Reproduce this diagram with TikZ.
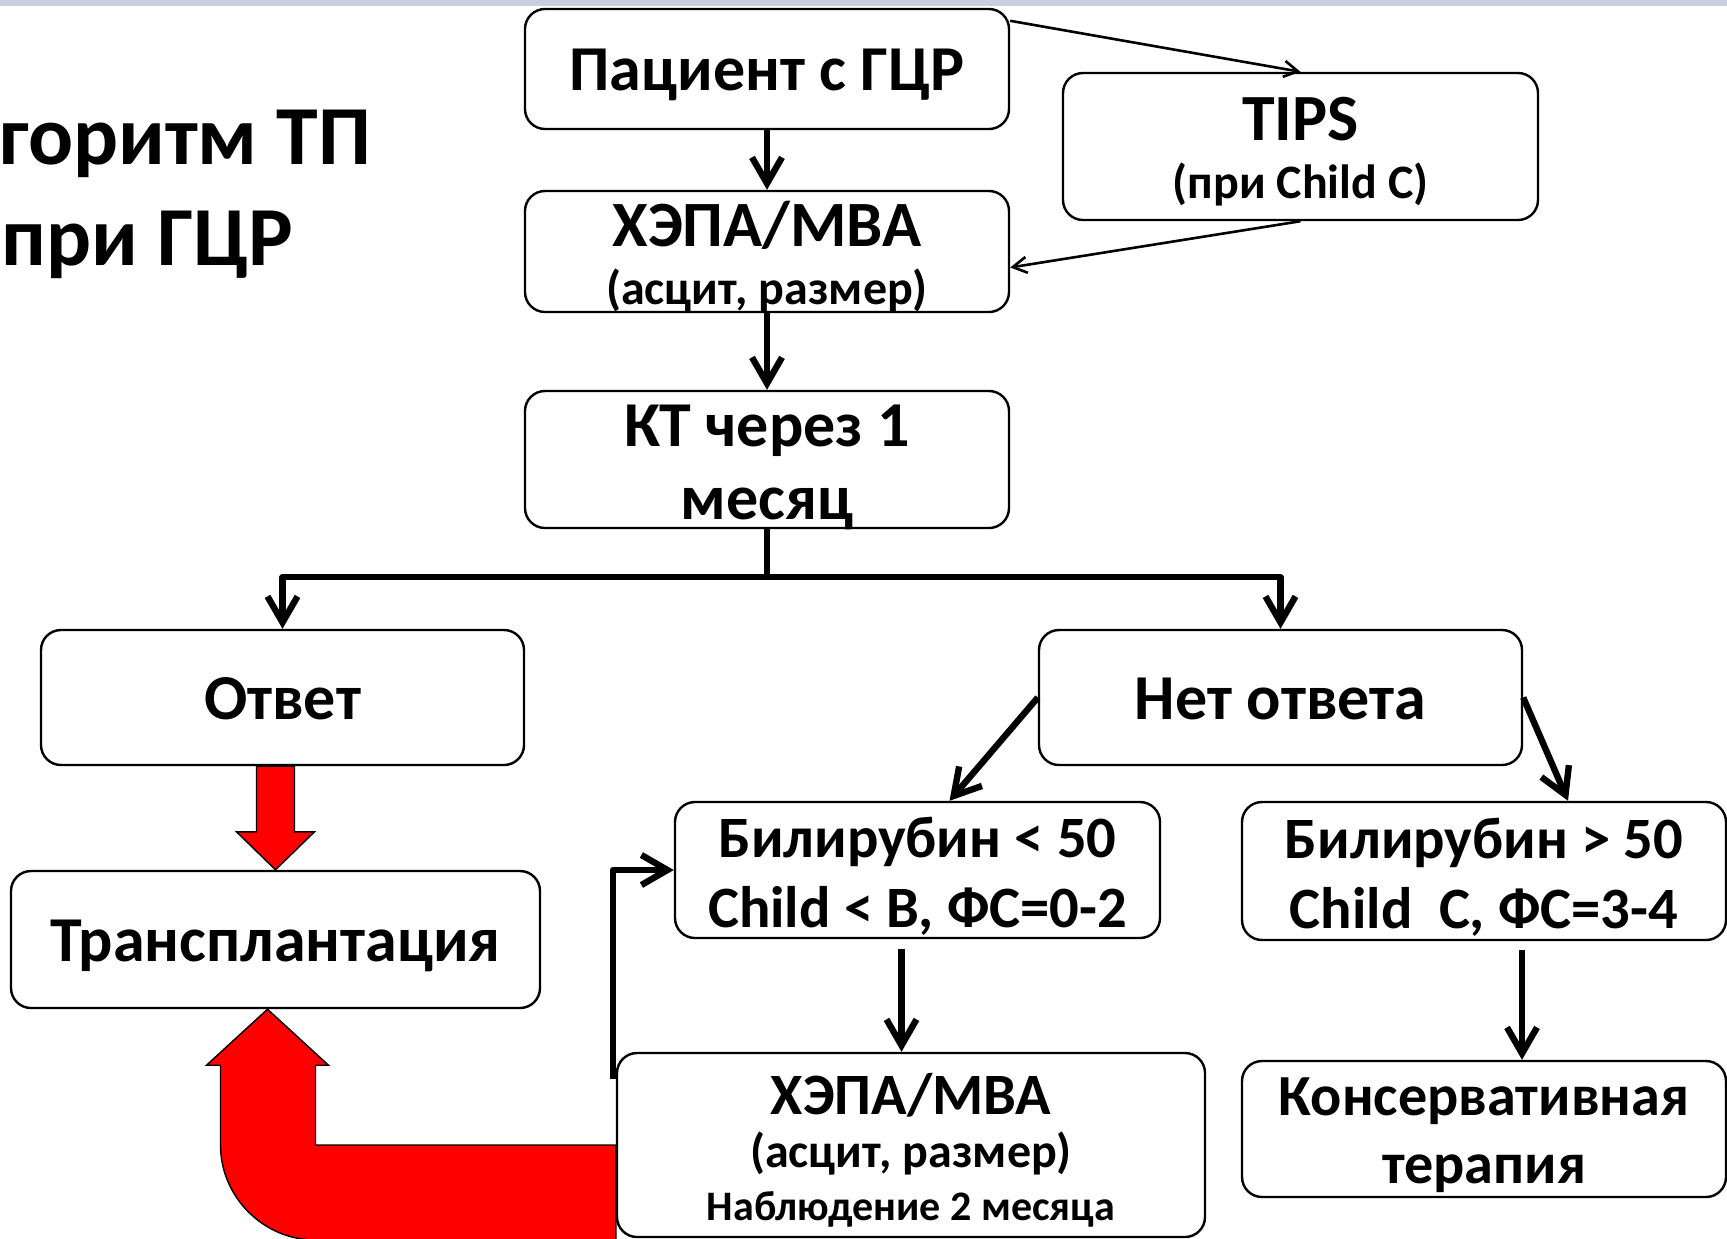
\documentclass[tikz,border=0pt]{standalone}
\usepackage{fontspec}
\setmainfont{Carlito}
\usetikzlibrary{arrows.meta,calc,backgrounds}
\definecolor{bandgray}{RGB}{200,208,222}
\definecolor{arrred}{RGB}{255,0,0}

\begin{document}
\begin{tikzpicture}[x=0.5pt, y=-0.5pt, line join=round,
    box/.style={draw, line width=1.2pt, rounded corners=10pt, fill=white,
                align=center, inner sep=0pt},
    thickarr/.style={line width=3.2pt, -{Straight Barb[length=13pt,width=15pt]}},
    thinarr/.style={line width=1.3pt, -{Straight Barb[length=7pt,width=8pt]}},
    redarr/.style={fill=arrred, draw=black, line width=0.7pt, line join=miter},
    ttl/.style={anchor=base west, inner sep=0pt,
                font=\bfseries\fontsize{42}{50}\selectfont}
    ]
\clip (0,0) rectangle (1727,1238);
\fill[bandgray] (0,0) rectangle (1727,6);

% title
\node[ttl] (title1) at (-1,164) {горитм ТП};
\node[ttl] (title2) at (1,265) {при ГЦР};

% boxes (text height = offset of the last baseline below the centre)
\node[box, minimum width=242pt, minimum height=60pt, text height=21pt, text depth=0pt,
      font=\bfseries\fontsize{32}{38}\selectfont] (pat) at (767,69) {Пациент с ГЦР};
\node[box, minimum width=237.5pt, minimum height=73.5pt, text height=52pt, text depth=0pt,
      font=\bfseries\fontsize{33}{29}\selectfont] (tips) at (1300.5,146.5)
      {TIPS\\{\fontsize{24}{29}\selectfont (при Child C)}};
\node[box, minimum width=242pt, minimum height=60.5pt, text height=53pt, text depth=0pt,
      font=\bfseries\fontsize{32.3}{29}\selectfont] (hepa1) at (767,251.5)
      {ХЭПА/МВА\\{\fontsize{24}{29}\selectfont (асцит, размер)}};
\node[box, minimum width=242pt, minimum height=68.5pt, text height=59.5pt, text depth=0pt,
      font=\bfseries\fontsize{32}{36.2}\selectfont] (kt) at (767,459.5)
      {КТ через 1\\месяц};
\node[box, minimum width=241.5pt, minimum height=67.5pt, text height=22pt, text depth=0pt,
      font=\bfseries\fontsize{32}{38}\selectfont] (otv) at (282.5,697.5) {Ответ};
\node[box, minimum width=241.5pt, minimum height=67.5pt, text height=22pt, text depth=0pt,
      font=\bfseries\fontsize{32}{38}\selectfont] (net) at (1280.5,697.5) {Нет ответа};
\node[box, minimum width=264.5pt, minimum height=68.5pt, text height=22.2pt, text depth=0pt,
      font=\bfseries\fontsize{32}{38}\selectfont] (trans) at (275.5,939.5) {Трансплантация};
\node[box, minimum width=242.5pt, minimum height=68pt, text height=57pt, text depth=0pt,
      font=\bfseries\fontsize{29.3}{35}\selectfont] (bil1) at (917.5,870)
      {Билирубин < 50\\Child < B, ФС=0-2};
\node[box, minimum width=242pt, minimum height=69pt, text height=57pt, text depth=0pt,
      font=\bfseries\fontsize{29.3}{35}\selectfont] (bil2) at (1484,871)
      {Билирубин > 50\\Child~~C, ФС=3-4};
\node[box, minimum width=294pt, minimum height=92pt, text height=75pt, text depth=0pt,
      font=\bfseries\fontsize{29.3}{26.5}\selectfont] (hepa2) at (911,1145)
      {ХЭПА/МВА\\{\fontsize{24}{26.5}\selectfont (асцит, размер)}\\
       {\fontsize{21}{26.5}\selectfont Наблюдение 2 месяца}};
\node[box, minimum width=242pt, minimum height=68pt, text height=54pt, text depth=0pt,
      font=\bfseries\fontsize{29.1}{34}\selectfont] (kons) at (1484,1129)
      {Консервативная\\терапия};

% connectors
\draw[thickarr] (pat) -- (hepa1);
\draw[thickarr] (hepa1) -- (kt);
\draw[thinarr] ($(pat.north east)+(0,13)$) -- (tips.north);
\draw[thinarr] (tips.south) -- ($(hepa1.east)+(0,16)$);
\draw[thickarr] (kt.south) -- ++(0,48) -| (otv.north);
\draw[thickarr] (kt.south) -- ++(0,48) -| (net.north);
\draw[thickarr] (net.west) -- ($(bil1.north)+(32,0)$);
\draw[thickarr] (net.east) -- ($(bil2.north)+(84,0)$);
\coordinate (b1out) at ($(bil1.south)+(-16,10)$);
\coordinate (b2out) at ($(bil2.south)+(38,9)$);
\draw[thickarr] (b1out) -- (b1out |- hepa2.north);
\draw[thickarr] (b2out) -- (b2out |- kons.north);
\draw[thickarr] ($(hepa2.north west)+(-3,27)$) |- (bil1.west);

% red block arrows
\begin{scope}[on background layer]
\coordinate (headT) at (trans.north);
\draw[redarr] ($(otv.south -| headT)+(-19,0)$) -- ($(headT)+(-19,-38)$)
   -- ($(headT)+(-39,-38)$) -- (headT) -- ($(headT)+(39,-38)$)
   -- ($(headT)+(19,-38)$) -- ($(otv.south -| headT)+(19,0)$) -- cycle;

\coordinate (tipT) at ($(trans.south)+(-8,0)$);
\coordinate (shaftR) at ($(tipT)+(48,56)$);
\coordinate (shaftL) at ($(tipT)+(-47,56)$);
\coordinate (bendin) at (shaftR |- hepa2.west);
\coordinate (bandbot) at ($(hepa2.west)+(0,95)$);
\coordinate (bendout) at (shaftR |- bandbot);
\coordinate (outerL) at (shaftL |- hepa2.west);
\draw[redarr] (tipT) -- ($(tipT)+(61,56)$) -- (shaftR) -- (bendin)
   -- (hepa2.west) -- (bandbot) -- (bendout)
   .. controls ($(bendout)+(-52,0)$) and ($(outerL)+(0,52)$) .. (outerL)
   -- (shaftL) -- ($(tipT)+(-61,56)$) -- cycle;
\end{scope}
\end{tikzpicture}
\end{document}
